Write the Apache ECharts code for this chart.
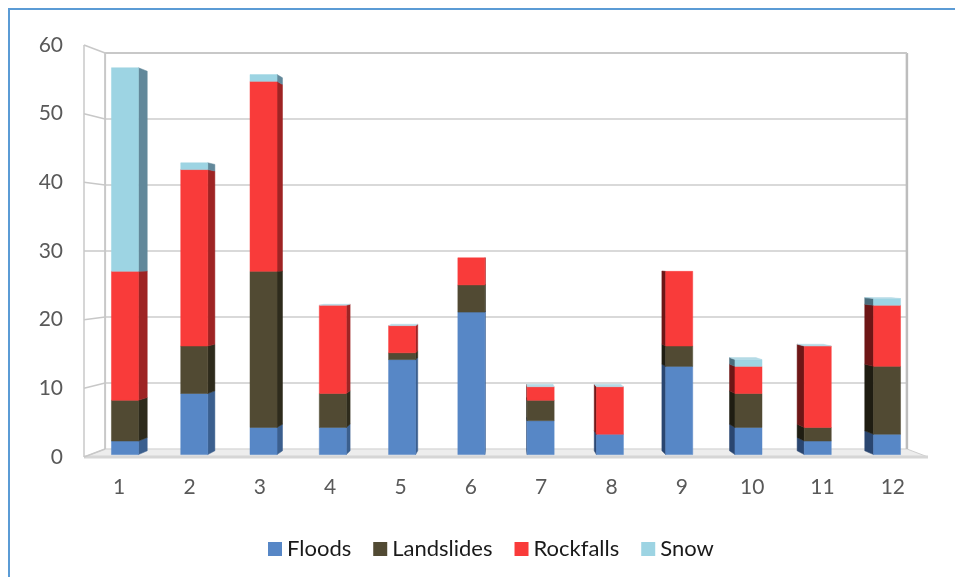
<!DOCTYPE html>
<html>
<head>
<meta charset="utf-8">
<style>
  html, body { margin: 0; padding: 0; background: #ffffff; }
  #chart { width: 955px; height: 577px; }
</style>
<script src="https://cdn.jsdelivr.net/npm/echarts@6/dist/echarts.min.js"></script>
</head>
<body>
<div id="chart"></div>
<script>
// Monthly counts of natural hazard events, stacked by type
const categories = ['1', '2', '3', '4', '5', '6', '7', '8', '9', '10', '11', '12'];
const floods     = [2, 9, 4, 4, 14, 21, 5, 3, 13, 4, 2, 3];
const landslides = [6, 7, 23, 5, 1, 4, 3, 0, 3, 5, 2, 10];
const rockfalls  = [19, 26, 28, 13, 4, 4, 2, 7, 11, 4, 12, 9];
const snow       = [30, 1, 1, 0, 0, 0, 0, 0, 0, 1, 0, 1];
const yTicks     = [0, 10, 20, 30, 40, 50, 60];

const seriesNames = ['Floods', 'Landslides', 'Rockfalls', 'Snow'];
const seriesValues = [floods, landslides, rockfalls, snow];

// face colours: front, right side, left side
const frontColors = ['#5787C6', '#514A33', '#F93B3A', '#9DD4E3'];
const rightColors = ['#3B5F8E', '#2E2B1C', '#9E2424', '#62889A'];
const leftColors  = ['#2A4670', '#1F1D12', '#6E1616', '#4A6D7C'];
const topFaceColor = '#B4DAE6';

// simple perspective: points move toward the plot centre with depth d (0 front, 1 back wall)
const KX = 0.05, KY = 0.039;
const D_FRONT = 0.3, D_BACK = 0.77;
function proj(x, y, d, c) {
  return [x + (c[0] - x) * KX * d, y + (c[1] - y) * KY * d];
}

// cumulative stack bases
const bases = [];
let running = categories.map(() => 0);
seriesValues.forEach(vals => {
  bases.push(running.slice());
  running = running.map((b, i) => b + vals[i]);
});

function makeBarRenderer(s) {
  const isTop = s === seriesValues.length - 1;
  return function (params, api) {
    const cs = params.coordSys;
    const c = [cs.x + cs.width / 2, cs.y + cs.height / 2];
    const i = api.value(0), lo = api.value(1), hi = api.value(2);
    const half = api.size([1, 0])[0] * 0.195;
    const pLo = api.coord([i, lo]);
    const pHi = api.coord([i, hi]);
    const xl = pLo[0] - half, xr = pLo[0] + half;
    const F = (x, y) => proj(x, y, D_FRONT, c);
    const B = (x, y) => proj(x, y, D_BACK, c);
    const fTL = F(xl, pHi[1]), fTR = F(xr, pHi[1]), fBL = F(xl, pLo[1]), fBR = F(xr, pLo[1]);
    const bTL = B(xl, pHi[1]), bTR = B(xr, pHi[1]), bBL = B(xl, pLo[1]), bBR = B(xr, pLo[1]);
    const children = [];
    const poly = (pts, fill) => ({
      type: 'polygon',
      shape: { points: pts },
      style: { fill: fill, stroke: fill, lineWidth: 0.5 }
    });
    if (hi > lo) {
      if (bTR[0] > fTR[0]) children.push(poly([fTR, bTR, bBR, fBR], rightColors[s]));
      if (bTL[0] < fTL[0]) children.push(poly([fTL, bTL, bBL, fBL], leftColors[s]));
      children.push(poly([fTL, fTR, fBR, fBL], frontColors[s]));
    }
    if (isTop && bTL[1] < fTL[1] - 0.5) {
      children.push(poly([fTL, fTR, bTR, bTL], topFaceColor));
    }
    return { type: 'group', children: children };
  };
}

// back wall, left wall and floor drawn in the same projected space
function renderWalls(params, api) {
  const cs = params.coordSys;
  const c = [cs.x + cs.width / 2, cs.y + cs.height / 2];
  const x0 = cs.x, x1 = cs.x + cs.width;
  const B = (x, y) => proj(x, y, 1, c);
  const yTop = api.coord([0, yTicks[yTicks.length - 1]])[1];
  const yBot = api.coord([0, yTicks[0]])[1];
  const children = [];
  const line = (a, b, color, w) => ({
    type: 'line',
    shape: { x1: a[0], y1: a[1], x2: b[0], y2: b[1] },
    style: { stroke: color, lineWidth: w }
  });
  // floor slab
  children.push({
    type: 'polygon',
    shape: { points: [[x0, yBot], [x1, yBot], B(x1, yBot), B(x0, yBot)] },
    style: { fill: '#EDEDED', stroke: '#CFCFCF', lineWidth: 1 }
  });
  children.push(line([x0, yBot], [x1, yBot], '#D6D6D6', 3));
  // grid lines on back and left walls
  yTicks.forEach(t => {
    const y = api.coord([0, t])[1];
    if (t > 0) children.push(line(B(x0, y), B(x1, y), '#D9D9D9', 2));
    children.push(line([x0, y], B(x0, y), '#C8C8C8', 1.5));
  });
  // wall edges
  children.push(line([x0, yTop], [x0, yBot], '#C8C8C8', 1.5));
  children.push(line(B(x0, yTop), B(x0, yBot), '#C8C8C8', 2));
  children.push(line(B(x1, yTop), B(x1, yBot), '#BDBDBD', 2.5));
  children.push(line(B(x0, yTop), B(x1, yTop), '#C8C8C8', 2));
  return { type: 'group', children: children };
}

const series = [{
  type: 'custom',
  name: 'walls',
  renderItem: renderWalls,
  data: [[0, 0]],
  silent: true,
  z: 1
}];
seriesNames.forEach((name, s) => {
  series.push({
    type: 'custom',
    name: name,
    renderItem: makeBarRenderer(s),
    itemStyle: { color: frontColors[s] },
    encode: { x: 0, y: [1, 2] },
    data: categories.map((_, i) => [i, bases[s][i], bases[s][i] + seriesValues[s][i]]),
    z: 2
  });
});

const chart = echarts.init(document.getElementById('chart'), null, { renderer: 'canvas' });
chart.setOption({
  animation: false,
  backgroundColor: '#ffffff',
  textStyle: { fontFamily: 'Lato' },
  graphic: [{
    type: 'polyline',
    shape: { points: [[9, 600], [9, 9], [970, 9]] },
    style: { stroke: '#5B9BD5', lineWidth: 2, fill: null },
    silent: true
  }],
  grid: { left: 84, right: 27, top: 45, bottom: 120 },
  xAxis: {
    type: 'category',
    data: categories,
    axisLine: { show: false },
    axisTick: { show: false },
    axisLabel: { color: '#595959', fontSize: 21, fontFamily: 'Lato', margin: 20 }
  },
  yAxis: {
    type: 'value',
    min: 0,
    max: 60,
    interval: 10,
    axisLine: { show: false },
    axisTick: { show: false },
    splitLine: { show: false },
    axisLabel: { color: '#595959', fontSize: 21, fontFamily: 'Lato', margin: 21 }
  },
  legend: {
    data: seriesNames,
    left: 263,
    top: 533,
    icon: 'rect',
    itemWidth: 14,
    itemHeight: 14,
    itemGap: 22,
    textStyle: { color: '#1A1A1A', fontSize: 22, fontFamily: 'Lato' }
  },
  series: series
});
</script>
</body>
</html>
